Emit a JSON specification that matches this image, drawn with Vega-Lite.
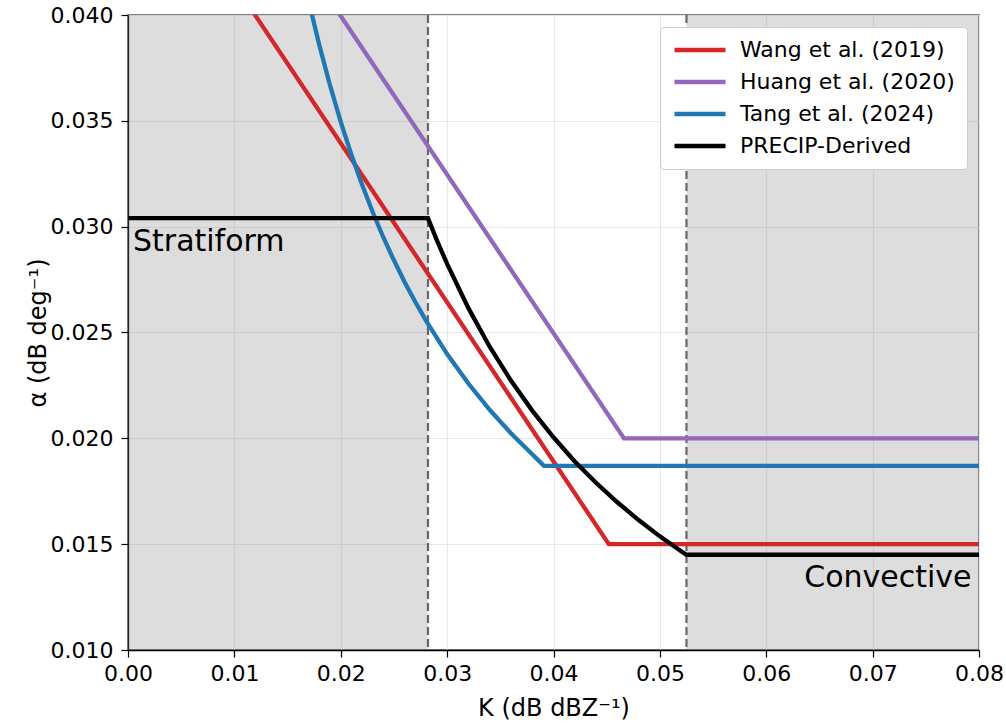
{
  "$schema": "https://vega.github.io/schema/vega-lite/v6.json",
  "width": 851,
  "height": 635,
  "autosize": "none",
  "padding": {"left": 128, "top": 15, "right": 27, "bottom": 73},
  "background": "white",
  "config": {
    "font": "DejaVu Sans",
    "view": {"stroke": "black", "strokeWidth": 1.3},
    "axis": {
      "labelFont": "DejaVu Sans", "titleFont": "DejaVu Sans",
      "labelFontSize": 22, "titleFontSize": 24, "labelColor": "black", "titleColor": "black",
      "titleFontWeight": "normal", "domainColor": "black", "tickColor": "black",
      "tickSize": 7, "tickWidth": 1.2, "domainWidth": 1.3, "labelFlush": false,
      "gridColor": "#e8e8e8", "gridWidth": 1, "labelPadding": 5
    }
  },
  "datasets": {
    "curves": [
      {"series": "Wang et al. (2019)", "K": 0.01061, "alpha": 0.0410},
      {"series": "Wang et al. (2019)", "K": 0.0452, "alpha": 0.0150},
      {"series": "Wang et al. (2019)", "K": 0.0800, "alpha": 0.0150},
      {"series": "Huang et al. (2020)", "K": 0.0186, "alpha": 0.0410},
      {"series": "Huang et al. (2020)", "K": 0.04663, "alpha": 0.0200},
      {"series": "Huang et al. (2020)", "K": 0.0800, "alpha": 0.0200},
      {"series": "Tang et al. (2024)", "K": 0.0168, "alpha": 0.0411},
      {"series": "Tang et al. (2024)", "K": 0.0173, "alpha": 0.0400},
      {"series": "Tang et al. (2024)", "K": 0.018, "alpha": 0.03855},
      {"series": "Tang et al. (2024)", "K": 0.019, "alpha": 0.03666},
      {"series": "Tang et al. (2024)", "K": 0.020, "alpha": 0.03495},
      {"series": "Tang et al. (2024)", "K": 0.021, "alpha": 0.03340},
      {"series": "Tang et al. (2024)", "K": 0.022, "alpha": 0.03199},
      {"series": "Tang et al. (2024)", "K": 0.023, "alpha": 0.03069},
      {"series": "Tang et al. (2024)", "K": 0.024, "alpha": 0.02950},
      {"series": "Tang et al. (2024)", "K": 0.025, "alpha": 0.02841},
      {"series": "Tang et al. (2024)", "K": 0.026, "alpha": 0.02739},
      {"series": "Tang et al. (2024)", "K": 0.027, "alpha": 0.02645},
      {"series": "Tang et al. (2024)", "K": 0.028, "alpha": 0.02557},
      {"series": "Tang et al. (2024)", "K": 0.030, "alpha": 0.02398},
      {"series": "Tang et al. (2024)", "K": 0.032, "alpha": 0.02259},
      {"series": "Tang et al. (2024)", "K": 0.034, "alpha": 0.02135},
      {"series": "Tang et al. (2024)", "K": 0.036, "alpha": 0.02024},
      {"series": "Tang et al. (2024)", "K": 0.038, "alpha": 0.01925},
      {"series": "Tang et al. (2024)", "K": 0.0391, "alpha": 0.0187},
      {"series": "Tang et al. (2024)", "K": 0.0800, "alpha": 0.0187},
      {"series": "PRECIP-Derived", "K": 0.0000, "alpha": 0.0304},
      {"series": "PRECIP-Derived", "K": 0.0282, "alpha": 0.0304},
      {"series": "PRECIP-Derived", "K": 0.029, "alpha": 0.02940},
      {"series": "PRECIP-Derived", "K": 0.030, "alpha": 0.02824},
      {"series": "PRECIP-Derived", "K": 0.032, "alpha": 0.02615},
      {"series": "PRECIP-Derived", "K": 0.034, "alpha": 0.02433},
      {"series": "PRECIP-Derived", "K": 0.036, "alpha": 0.02273},
      {"series": "PRECIP-Derived", "K": 0.038, "alpha": 0.02131},
      {"series": "PRECIP-Derived", "K": 0.040, "alpha": 0.02005},
      {"series": "PRECIP-Derived", "K": 0.042, "alpha": 0.01891},
      {"series": "PRECIP-Derived", "K": 0.044, "alpha": 0.01790},
      {"series": "PRECIP-Derived", "K": 0.046, "alpha": 0.01698},
      {"series": "PRECIP-Derived", "K": 0.048, "alpha": 0.01614},
      {"series": "PRECIP-Derived", "K": 0.050, "alpha": 0.01537},
      {"series": "PRECIP-Derived", "K": 0.052, "alpha": 0.01467},
      {"series": "PRECIP-Derived", "K": 0.0525, "alpha": 0.0145},
      {"series": "PRECIP-Derived", "K": 0.0800, "alpha": 0.0145}
    ],
    "regions": [
      {"start": 0.0, "end": 0.0282},
      {"start": 0.0525, "end": 0.08}
    ],
    "bounds": [
      {"K": 0.0282},
      {"K": 0.0525}
    ],
    "leftLabel": [
      {"K": 0.00047, "alpha": 0.02885, "text": "Stratiform"}
    ],
    "rightLabel": [
      {"K": 0.0793, "alpha": 0.01298, "text": "Convective"}
    ]
  },
  "layer": [
    {
      "data": {"name": "regions"},
      "mark": {"type": "rect", "color": "#808080", "opacity": 0.27},
      "encoding": {
        "x": {"field": "start", "type": "quantitative", "scale": {"domain": [0, 0.08], "nice": false, "zero": false},
              "axis": {"values": [0, 0.01, 0.02, 0.03, 0.04, 0.05, 0.06, 0.07, 0.08], "format": ".2f", "title": "K (dB dBZ⁻¹)", "titlePadding": 12, "labelPadding": 6, "grid": true}},
        "x2": {"field": "end"}
      }
    },
    {
      "data": {"name": "bounds"},
      "mark": {"type": "rule", "color": "#666666", "strokeWidth": 2.2, "strokeDash": [8, 4]},
      "encoding": {
        "x": {"field": "K", "type": "quantitative"}
      }
    },
    {
      "data": {"name": "curves"},
      "mark": {"type": "line", "clip": true, "strokeCap": "butt", "strokeJoin": "miter"},
      "encoding": {
        "x": {"field": "K", "type": "quantitative"},
        "y": {"field": "alpha", "type": "quantitative", "scale": {"domain": [0.01, 0.04], "nice": false, "zero": false},
              "axis": {"values": [0.01, 0.015, 0.02, 0.025, 0.03, 0.035, 0.04], "format": ".3f", "title": "α (dB deg⁻¹)", "titlePadding": 0, "labelPadding": 8, "grid": true}},
        "color": {
          "field": "series", "type": "nominal",
          "scale": {"domain": ["Wang et al. (2019)", "Huang et al. (2020)", "Tang et al. (2024)", "PRECIP-Derived"],
                    "range": ["#d62728", "#9467bd", "#1f77b4", "#000000"]},
          "legend": {
            "title": null, "orient": "top-right", "offset": 12,
            "symbolType": "M-1,0H5", "symbolSize": 289, "symbolStrokeWidth": 4.5,
            "labelFontSize": 22, "labelFont": "DejaVu Sans", "labelColor": "black", "labelLimit": 0,
            "labelOffset": 46, "rowPadding": 10, "padding": 12,
            "fillColor": "white", "strokeColor": "#cccccc", "cornerRadius": 4
          }
        },
        "strokeWidth": {
          "field": "series", "type": "nominal",
          "scale": {"domain": ["Wang et al. (2019)", "Huang et al. (2020)", "Tang et al. (2024)", "PRECIP-Derived"],
                    "range": [4.3, 4.3, 4.3, 5.3]},
          "legend": null
        },
        "order": {"field": "K", "type": "quantitative"}
      }
    },
    {
      "data": {"name": "leftLabel"},
      "mark": {"type": "text", "fontSize": 30, "baseline": "alphabetic", "align": "left", "color": "black", "font": "DejaVu Sans"},
      "encoding": {
        "x": {"field": "K", "type": "quantitative"},
        "y": {"field": "alpha", "type": "quantitative"},
        "text": {"field": "text"}
      }
    },
    {
      "data": {"name": "rightLabel"},
      "mark": {"type": "text", "fontSize": 30, "baseline": "alphabetic", "align": "right", "color": "black", "font": "DejaVu Sans"},
      "encoding": {
        "x": {"field": "K", "type": "quantitative"},
        "y": {"field": "alpha", "type": "quantitative"},
        "text": {"field": "text"}
      }
    }
  ]
}
